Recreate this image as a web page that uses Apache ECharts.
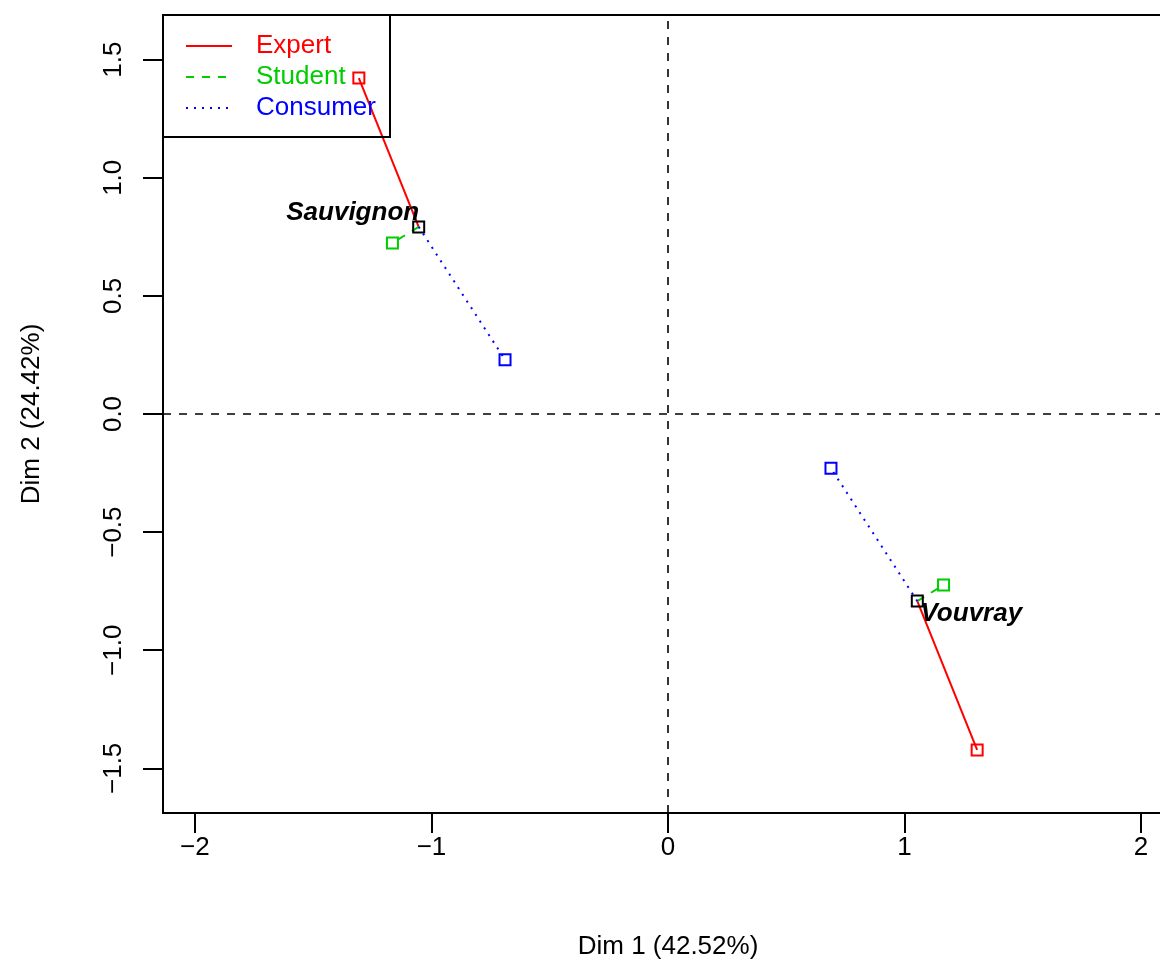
<!DOCTYPE html>
<html>
<head>
<meta charset="utf-8">
<script src="https://cdn.jsdelivr.net/npm/echarts@6/dist/echarts.min.js"></script>
<style>
html,body{margin:0;padding:0;background:#fff;overflow:hidden;}
#chart{width:1173px;height:967px;}
</style>
</head>
<body>
<div id="chart"></div>
<script>
// ---- data ----
var wines = ['Sauvignon', 'Vouvray'];
var meanX = [-1.054, 1.054];
var meanY = [0.792, -0.792];
var expertX = [-1.307, 1.307];
var expertY = [1.422, -1.422];
var studentX = [-1.165, 1.165];
var studentY = [0.724, -0.724];
var consumerX = [-0.689, 0.689];
var consumerY = [0.230, -0.230];
var groups = ['Expert', 'Student', 'Consumer'];
var xTicks = [-2, -1, 0, 1, 2];
var yTicks = [-1.5, -1.0, -0.5, 0.0, 0.5, 1.0, 1.5];
var xName = 'Dim 1 (42.52%)';
var yName = 'Dim 2 (24.42%)';

// ---- styles ----
var FONT = '"Liberation Sans", Arial, Helvetica, sans-serif';
var FS = 26;
var groupColors = {Expert: '#FF0000', Student: '#00CD00', Consumer: '#0000FF'};
var groupDash = {Expert: 'solid', Student: [8, 8], Consumer: [2, 6]};
var groupX = {Expert: expertX, Student: studentX, Consumer: consumerX};
var groupY = {Expert: expertY, Student: studentY, Consumer: consumerY};

function fmtNum(v, d) {
  var s = d ? Number(v).toFixed(d) : String(v);
  return s.replace('-', '\u2212');
}

var series = [];
groups.forEach(function (g) {
  wines.forEach(function (w, i) {
    series.push({
      type: 'line',
      name: g + ' ' + w,
      symbol: 'none',
      silent: true,
      z: 2,
      lineStyle: {color: groupColors[g], width: 2, type: groupDash[g]},
      data: [[meanX[i], meanY[i]], [groupX[g][i], groupY[g][i]]]
    });
  });
});

// reference lines at 0
series.push({
  type: 'line',
  name: 'ref',
  data: [],
  z: 1,
  markLine: {
    silent: true,
    symbol: 'none',
    animation: false,
    label: {show: false},
    lineStyle: {color: '#000', width: 1.6, type: [8, 8]},
    data: [{xAxis: 0}, {yAxis: 0}]
  }
});

// partial points
groups.forEach(function (g) {
  series.push({
    type: 'scatter',
    name: g,
    symbol: 'rect',
    symbolSize: 11,
    z: 3,
    silent: true,
    itemStyle: {color: 'rgba(0,0,0,0)', borderColor: groupColors[g], borderWidth: 2, opacity: 1},
    data: wines.map(function (w, i) { return [groupX[g][i], groupY[g][i]]; })
  });
});

// mean points with labels
var labelOffsets = [[-66, -14], [54, 13]];
series.push({
  type: 'scatter',
  name: 'mean',
  symbol: 'rect',
  symbolSize: 11,
  z: 4,
  silent: true,
  itemStyle: {color: 'rgba(0,0,0,0)', borderColor: '#000', borderWidth: 2, opacity: 1},
  data: wines.map(function (w, i) {
    return {
      name: w,
      value: [meanX[i], meanY[i]],
      label: {
        show: true,
        position: 'inside',
        offset: labelOffsets[i],
        formatter: '{b}',
        align: 'center',
        verticalAlign: 'middle',
        color: '#000',
        opacity: 1,
        textBorderWidth: 0,
        textShadowBlur: 0,
        fontFamily: FONT,
        fontSize: FS,
        fontWeight: 'bold',
        fontStyle: 'italic'
      }
    };
  })
});

// legend drawn as graphic (transparent box, data shows through)
var legendGraphic = [{
  type: 'rect',
  shape: {x: 163, y: 15, width: 227, height: 122},
  style: {fill: 'none', stroke: '#000', lineWidth: 2},
  z: 100
}];
groups.forEach(function (g, k) {
  var y = 46 + k * 31;
  legendGraphic.push({
    type: 'line',
    shape: {x1: 186, y1: y, x2: 232, y2: y},
    style: {stroke: groupColors[g], lineWidth: 2, lineDash: groupDash[g] === 'solid' ? null : groupDash[g]},
    z: 101
  });
  legendGraphic.push({
    type: 'text',
    x: 256,
    y: y,
    style: {text: g, fill: groupColors[g], font: FS + 'px ' + FONT, textVerticalAlign: 'middle', verticalAlign: 'middle'},
    z: 101
  });
});

var chart = echarts.init(document.getElementById('chart'), null, {renderer: 'canvas'});
chart.setOption({
  animation: false,
  backgroundColor: '#fff',
  grid: {left: 163, right: 0, top: 15, bottom: 154, show: true, borderColor: '#000', borderWidth: 2, backgroundColor: 'rgba(0,0,0,0)'},
  xAxis: {
    type: 'value',
    min: -2.135, max: 2.135,
    splitLine: {show: false},
    axisLine: {show: false, onZero: false},
    axisTick: {show: true, inside: false, length: 20, lineStyle: {color: '#000', width: 2}, customValues: xTicks},
    axisLabel: {
      show: true, margin: 22, color: '#000', fontFamily: FONT, fontSize: FS,
      customValues: xTicks,
      formatter: function (v) { return fmtNum(v); }
    },
    name: xName,
    nameLocation: 'middle',
    nameGap: 121,
    nameTextStyle: {color: '#000', fontFamily: FONT, fontSize: FS}
  },
  yAxis: {
    type: 'value',
    min: -1.689, max: 1.689,
    splitLine: {show: false},
    axisLine: {show: false, onZero: false},
    axisTick: {show: true, inside: false, length: 20, lineStyle: {color: '#000', width: 2}, customValues: yTicks},
    axisLabel: {
      show: true, margin: 36, rotate: 90, color: '#000', fontFamily: FONT, fontSize: FS,
      customValues: yTicks,
      formatter: function (v) { return fmtNum(v, 1); }
    },
    name: yName,
    nameLocation: 'middle',
    nameGap: 118,
    nameTextStyle: {color: '#000', fontFamily: FONT, fontSize: FS}
  },
  graphic: legendGraphic,
  series: series
});
</script>
</body>
</html>
